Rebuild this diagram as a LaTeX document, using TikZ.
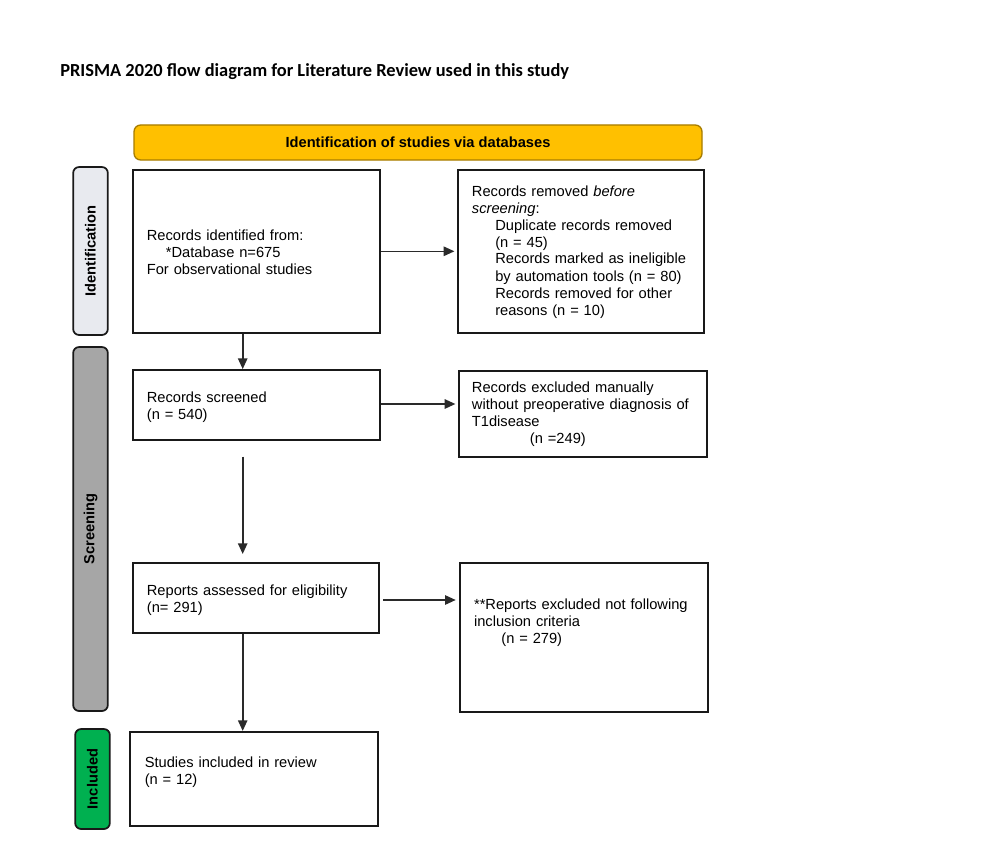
\documentclass[tikz,border=0pt]{standalone}
\usepackage{fontspec}
\setmainfont{Liberation Sans}
\newfontfamily\titlefont{Carlito}
\usetikzlibrary{arrows.meta}
\definecolor{hdrfill}{HTML}{FFC000}
\definecolor{hdrdraw}{HTML}{A67C00}
\definecolor{idfill}{HTML}{E8EAEF}
\definecolor{scrfill}{HTML}{A6A6A6}
\definecolor{incfill}{HTML}{00B050}
\definecolor{linec}{HTML}{2A2A2A}
\begin{document}
\begin{tikzpicture}[x=0.75pt,y=-0.75pt,
  box/.style={draw=black!90, line width=1.4pt, inner sep=0pt},
  side/.style={draw=black!90, line width=1.3pt, rounded corners=4.5pt, inner sep=0pt, minimum width=26pt},
  sidetxt/.style={rotate=90, inner sep=0pt, font=\fontsize{11}{13}\selectfont\bfseries},
  txt/.style={anchor=base west, inner sep=0pt, align=left, text width=180pt, font=\fontsize{11}{12.75}\selectfont},
  arr/.style={draw=linec, line width=1.2pt, -{Triangle[length=8pt,width=7pt]}}
]
\useasboundingbox[fill=white] (0,0) rectangle (986,842);

% title
\node[anchor=base west, inner sep=0pt, font=\titlefont\bfseries\fontsize{13.8}{16}\selectfont] (title) at (60,77)
  {PRISMA 2020 flow diagram for Literature Review used in this study};

% header
\node[draw=hdrdraw, fill=hdrfill, line width=1pt, rounded corners=5pt, minimum width=426pt, minimum height=26.25pt,
  font=\fontsize{11}{13}\selectfont\bfseries] (hdr) at (418,142.5) {Identification of studies via databases};

% side labels
\node[side, fill=idfill, minimum height=126pt] (sideid) at (90.5,251) {};
\node[sidetxt] (sideidt) at (sideid.center) {Identification};
\node[side, fill=scrfill, minimum height=273pt] (sidescr) at (90.5,529) {};
\node[sidetxt] (sidescrt) at (sidescr.center) {Screening};
\node[side, fill=incfill, minimum height=75pt] (sideinc) at (92.5,779) {};
\node[sidetxt] (sideinct) at (sideinc.center) {Included};

% boxes
\node[box, minimum width=185.25pt, minimum height=122pt] (b1) at (256.5,251.3) {};
\node[box, minimum width=184.5pt, minimum height=122pt] (r1) at (581,251.3) {};
\node[box, minimum width=185.25pt, minimum height=52.5pt] (b2) at (256.5,405) {};
\node[box, minimum width=186pt, minimum height=64.3pt] (r2) at (583,414) {};
\node[box, minimum width=184.5pt, minimum height=52.5pt] (b3) at (256,598) {};
\node[box, minimum width=186pt, minimum height=111.75pt] (r3) at (584,637.5) {};
\node[box, minimum width=186pt, minimum height=70.7pt] (b4) at (254,779) {};

% texts
\node[txt] (b1t) at (146.6,240) {Records identified from:\\\hspace*{14.3pt}*Database n=675\\For observational studies};
\node[txt] (r1t) at (471.7,196) {Records removed \textit{before}\\\textit{screening}:\\
  \hspace*{17.5pt}Duplicate records removed\\\hspace*{17.5pt}(n = 45)\\
  \hspace*{17.5pt}Records marked as ineligible\\\hspace*{17.5pt}by automation tools (n = 80)\\
  \hspace*{17.5pt}Records removed for other\\\hspace*{17.5pt}reasons (n = 10)};
\node[txt] (b2t) at (146.6,402) {Records screened\\(n = 540)};
\node[txt] (r2t) at (471.7,392) {Records excluded manually\\without preoperative diagnosis of\\T1disease\\\hspace*{43.5pt}(n =249)};
\node[txt] (b3t) at (146.6,595) {Reports assessed for eligibility\\(n= 291)};
\node[txt] (r3t) at (473.8,609) {**Reports excluded not following\\inclusion criteria\\\hspace*{20.5pt}(n = 279)};
\node[txt] (b4t) at (144.5,767) {Studies included in review\\(n = 12)};

% connectors
\coordinate (colx) at (242.7,0);
\coordinate (s1) at (242.7,456.7);
\coordinate (s2) at (242.7,554);
\coordinate (h3) at (383,600);
\draw[arr] (b1.south -| colx) -- (b2.north -| colx);
\draw[arr] (s1) -- (s2);
\draw[arr] (b3.south -| colx) -- (b4.north -| colx);
\draw[arr, shorten >=2pt] (b1.east) -- (b1.east -| r1.west);
\draw[arr, shorten >=2pt] (b2.east |- 0,404) -- (r2.west |- 0,404);
\draw[arr, shorten >=2.5pt] (h3) -- (h3 -| r3.west);
\end{tikzpicture}
\end{document}
